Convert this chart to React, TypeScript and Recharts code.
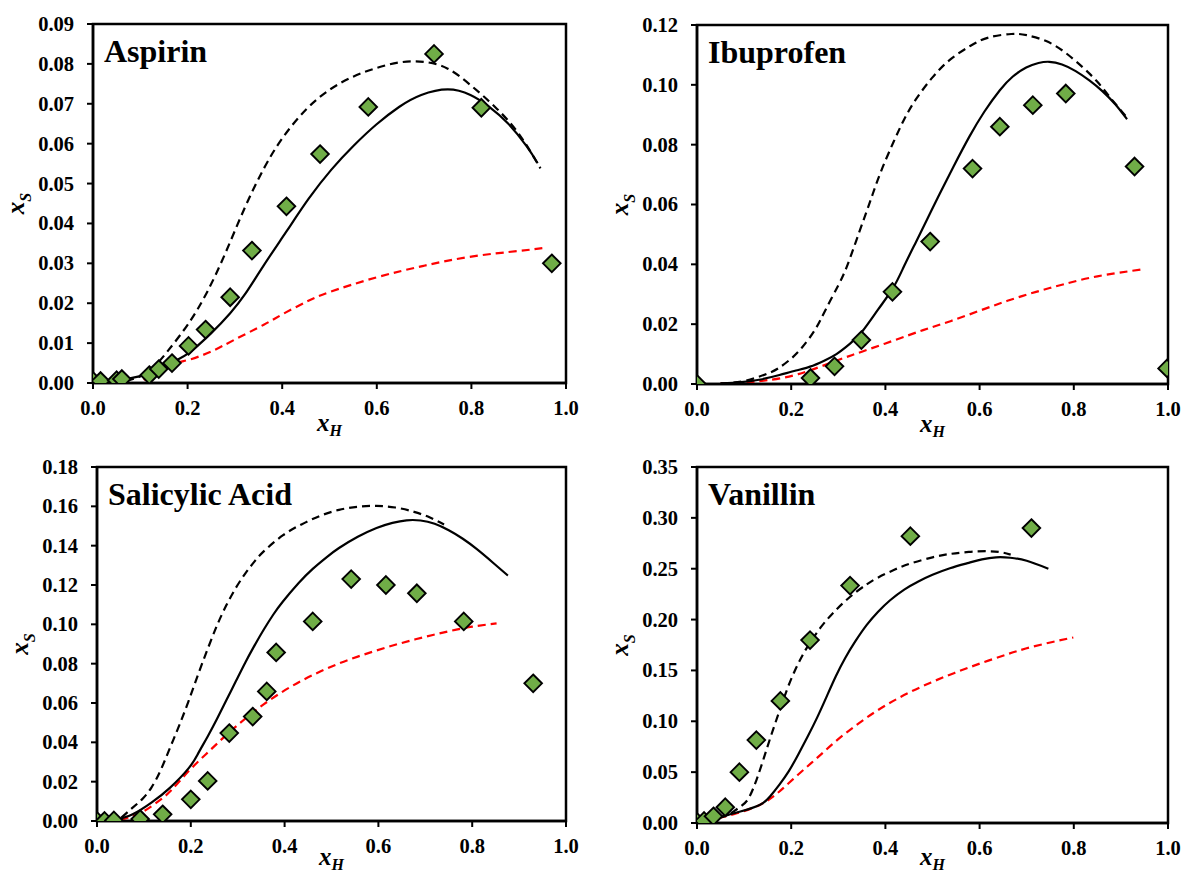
import React from 'react';
import { ComposedChart, Line, Scatter, XAxis, YAxis, ReferenceArea } from 'recharts';

// x_H values shared by all four panels
const xTicks = [0, 0.2, 0.4, 0.6, 0.8, 1.0];

// ---- Aspirin ----
const aspirinTicks = [0, 0.01, 0.02, 0.03, 0.04, 0.05, 0.06, 0.07, 0.08, 0.09];
const aspirinExp = [
  [0.0, 0.0005], [0.016, 0.0005], [0.05, 0.0007], [0.061, 0.001], [0.119, 0.002],
  [0.139, 0.0035], [0.167, 0.005], [0.202, 0.0093], [0.238, 0.0134], [0.29, 0.0215],
  [0.336, 0.0332], [0.409, 0.0443], [0.48, 0.0574], [0.582, 0.0692], [0.721, 0.0825],
  [0.821, 0.069], [0.97, 0.030],
];
const aspirinModel = [
  [0.06, 0.0008], [0.123, 0.0025], [0.171, 0.0054], [0.202, 0.0075], [0.25, 0.0125],
  [0.29, 0.0175], [0.321, 0.0222], [0.361, 0.0295], [0.409, 0.038], [0.456, 0.0462],
  [0.504, 0.0535], [0.552, 0.0596], [0.599, 0.0648], [0.647, 0.0692], [0.694, 0.0722],
  [0.75, 0.0736], [0.798, 0.0722], [0.837, 0.0693], [0.877, 0.0651], [0.917, 0.0593],
  [0.94, 0.0551],
];
const aspirinDashed = [
  [0.07, 0.0005], [0.1, 0.0017], [0.13, 0.0042], [0.16, 0.0083], [0.2, 0.0146],
  [0.24, 0.0225], [0.28, 0.0326], [0.32, 0.0437], [0.36, 0.0535], [0.4, 0.0613],
  [0.45, 0.0685], [0.5, 0.0735], [0.55, 0.0768], [0.6, 0.079], [0.65, 0.0804],
  [0.7, 0.0805], [0.75, 0.0788], [0.8, 0.0745], [0.85, 0.0692], [0.9, 0.0625],
  [0.946, 0.0538],
];
const aspirinRed = [
  [0.107, 0.0008], [0.167, 0.0046], [0.202, 0.0058], [0.25, 0.0079], [0.3, 0.0109],
  [0.361, 0.0146], [0.4, 0.0172], [0.45, 0.0203], [0.5, 0.0228], [0.6, 0.0265],
  [0.7, 0.0294], [0.8, 0.0317], [0.9, 0.0331], [0.95, 0.0338],
];

// ---- Ibuprofen ----
const ibuprofenTicks = [0, 0.02, 0.04, 0.06, 0.08, 0.1, 0.12];
const ibuprofenExp = [
  [0.0, 0.0], [0.241, 0.002], [0.292, 0.0059], [0.349, 0.0147], [0.415, 0.0308],
  [0.495, 0.0476], [0.585, 0.072], [0.643, 0.086], [0.713, 0.0932], [0.783, 0.0971],
  [0.929, 0.0727], [0.998, 0.0052],
];
const ibuprofenModel = [
  [0.05, 0.0001], [0.094, 0.0006], [0.135, 0.0015], [0.175, 0.003], [0.21, 0.0045],
  [0.24, 0.0058], [0.27, 0.0078], [0.296, 0.010], [0.325, 0.0135], [0.352, 0.0178],
  [0.385, 0.025], [0.417, 0.0323], [0.44, 0.0395], [0.465, 0.0475], [0.49, 0.0555],
  [0.514, 0.0632], [0.545, 0.0728], [0.578, 0.0826], [0.61, 0.091], [0.643, 0.0982],
  [0.67, 0.1027], [0.699, 0.1058], [0.725, 0.1073], [0.748, 0.1077], [0.775, 0.1068],
  [0.804, 0.1046], [0.833, 0.1015], [0.86, 0.098], [0.888, 0.0935], [0.913, 0.0885],
];
const ibuprofenDashed = [
  [0.05, 0.0002], [0.1, 0.001], [0.15, 0.0035], [0.175, 0.0055], [0.2, 0.0085],
  [0.223, 0.0122], [0.25, 0.018], [0.272, 0.0245], [0.3, 0.033], [0.32, 0.040],
  [0.345, 0.051], [0.368, 0.0612], [0.39, 0.0708], [0.417, 0.0808], [0.44, 0.0885],
  [0.465, 0.0952], [0.5, 0.1025], [0.538, 0.1085], [0.58, 0.113], [0.619, 0.1158],
  [0.667, 0.117], [0.7, 0.1166], [0.74, 0.1147], [0.78, 0.111], [0.82, 0.1057],
  [0.85, 0.101], [0.877, 0.0958], [0.913, 0.089],
];
const ibuprofenRed = [
  [0.05, 0.0001], [0.1, 0.0005], [0.15, 0.0013], [0.215, 0.0033], [0.296, 0.0078],
  [0.35, 0.0108], [0.417, 0.0145], [0.48, 0.018], [0.538, 0.021], [0.6, 0.0245],
  [0.659, 0.0278], [0.72, 0.0308], [0.78, 0.0334], [0.85, 0.036], [0.949, 0.0384],
];

// ---- Salicylic Acid ----
const salicylicTicks = [0, 0.02, 0.04, 0.06, 0.08, 0.1, 0.12, 0.14, 0.16, 0.18];
const salicylicExp = [
  [0.0, 0.0], [0.016, 0.0], [0.036, 0.0003], [0.092, 0.001], [0.14, 0.0034],
  [0.2, 0.011], [0.236, 0.0204], [0.282, 0.0447], [0.332, 0.0531], [0.362, 0.0659],
  [0.382, 0.0857], [0.46, 0.1015], [0.542, 0.123], [0.616, 0.120], [0.682, 0.1158],
  [0.782, 0.1015], [0.93, 0.070],
];
const salicylicModel = [
  [0.04, 0.0005], [0.076, 0.0034], [0.116, 0.0093], [0.156, 0.017], [0.196, 0.027],
  [0.216, 0.0345], [0.236, 0.043], [0.256, 0.052], [0.276, 0.0615], [0.296, 0.071],
  [0.316, 0.0805], [0.336, 0.0893], [0.356, 0.0975], [0.376, 0.105], [0.396, 0.1115],
  [0.43, 0.121], [0.46, 0.1282], [0.49, 0.1342], [0.516, 0.1388], [0.556, 0.1445],
  [0.596, 0.149], [0.63, 0.1516], [0.66, 0.1529], [0.69, 0.1528], [0.72, 0.1511],
  [0.75, 0.1478], [0.78, 0.1435], [0.81, 0.1382], [0.845, 0.1312], [0.876, 0.1248],
];
const salicylicDashed = [
  [0.052, 0.0017], [0.076, 0.0068], [0.096, 0.011], [0.116, 0.017], [0.136, 0.026],
  [0.156, 0.0374], [0.176, 0.049], [0.196, 0.0615], [0.216, 0.0748], [0.236, 0.0875],
  [0.256, 0.0995], [0.276, 0.1098], [0.296, 0.1185], [0.316, 0.1258], [0.336, 0.132],
  [0.356, 0.1372], [0.396, 0.1452], [0.436, 0.1508], [0.476, 0.1552], [0.516, 0.1582],
  [0.556, 0.1598], [0.596, 0.1602], [0.636, 0.1594], [0.676, 0.1572], [0.71, 0.1543],
  [0.74, 0.1508],
];
const salicylicRed = [
  [0.05, 0.0005], [0.076, 0.0025], [0.1, 0.005], [0.132, 0.0102], [0.16, 0.016],
  [0.196, 0.0255], [0.236, 0.0348], [0.276, 0.0438], [0.316, 0.052], [0.356, 0.0594],
  [0.396, 0.0658], [0.436, 0.0713], [0.476, 0.076], [0.516, 0.0801], [0.556, 0.0836],
  [0.596, 0.0867], [0.636, 0.0896], [0.676, 0.0922], [0.716, 0.0946], [0.756, 0.0968],
  [0.8, 0.0988], [0.852, 0.1005],
];

// ---- Vanillin ----
const vanillinTicks = [0, 0.05, 0.1, 0.15, 0.2, 0.25, 0.3, 0.35];
const vanillinExp = [
  [0.0, 0.001], [0.015, 0.002], [0.035, 0.0066], [0.06, 0.0155], [0.09, 0.050],
  [0.126, 0.0815], [0.177, 0.120], [0.24, 0.1798], [0.325, 0.2334], [0.453, 0.282],
  [0.71, 0.290],
];
const vanillinModel = [
  [0.02, 0.001], [0.038, 0.004], [0.066, 0.008], [0.094, 0.0115], [0.134, 0.018],
  [0.155, 0.026], [0.175, 0.0378], [0.195, 0.051], [0.215, 0.0674], [0.235, 0.085],
  [0.255, 0.1036], [0.275, 0.124], [0.295, 0.1445], [0.315, 0.1625], [0.336, 0.1785],
  [0.36, 0.1945], [0.384, 0.2075], [0.41, 0.219], [0.44, 0.2295], [0.47, 0.2375],
  [0.5, 0.244], [0.537, 0.2505], [0.577, 0.2558], [0.605, 0.2592], [0.635, 0.2612],
  [0.665, 0.2608], [0.7, 0.2578], [0.746, 0.250],
];
const vanillinDashed = [
  [0.02, 0.001], [0.038, 0.004], [0.06, 0.007], [0.078, 0.0115], [0.095, 0.017],
  [0.11, 0.0247], [0.126, 0.042], [0.142, 0.064], [0.158, 0.087], [0.175, 0.110],
  [0.191, 0.131], [0.207, 0.149], [0.223, 0.164], [0.239, 0.1765], [0.263, 0.1925],
  [0.287, 0.2055], [0.31, 0.2162], [0.336, 0.2265], [0.36, 0.2345], [0.384, 0.2412],
  [0.42, 0.2492], [0.456, 0.2555], [0.5, 0.2612], [0.537, 0.2645], [0.577, 0.2665],
  [0.617, 0.2672], [0.645, 0.2662], [0.666, 0.2638],
];
const vanillinRed = [
  [0.02, 0.001], [0.038, 0.004], [0.08, 0.009], [0.134, 0.018], [0.175, 0.031],
  [0.215, 0.0477], [0.255, 0.064], [0.295, 0.0805], [0.336, 0.0955], [0.376, 0.1085],
  [0.416, 0.1198], [0.456, 0.1295], [0.497, 0.1382], [0.537, 0.1458], [0.577, 0.1528],
  [0.617, 0.1594], [0.658, 0.1658], [0.698, 0.1715], [0.75, 0.1775], [0.799, 0.1824],
];

const FONT = "'Liberation Serif', 'Times New Roman', Times, 'DejaVu Serif', serif";
const W = 592;
const H = 437;

const toPts = (rows: number[][]) => rows.map(([x, y]) => ({ x, y }));

const panels = [
  {
    name: 'Aspirin', left: 0, top: 0, plotLeft: 93, plotTop: 24, plotRight: 566, plotBottom: 383, xLabelDy: 48,
    yMax: 0.09, yTicks: aspirinTicks, exp: aspirinExp, model: aspirinModel, dashed: aspirinDashed, red: aspirinRed,
  },
  {
    name: 'Ibuprofen', left: 592, top: 0, plotLeft: 697, plotTop: 25, plotRight: 1168, plotBottom: 384, xLabelDy: 48,
    yMax: 0.12, yTicks: ibuprofenTicks, exp: ibuprofenExp, model: ibuprofenModel, dashed: ibuprofenDashed, red: ibuprofenRed,
  },
  {
    name: 'Salicylic Acid', left: 0, top: 437, plotLeft: 97, plotTop: 467, plotRight: 566, plotBottom: 821, xLabelDy: 44,
    yMax: 0.18, yTicks: salicylicTicks, exp: salicylicExp, model: salicylicModel, dashed: salicylicDashed, red: salicylicRed,
  },
  {
    name: 'Vanillin', left: 592, top: 437, plotLeft: 697, plotTop: 467, plotRight: 1168, plotBottom: 823, xLabelDy: 42,
    yMax: 0.35, yTicks: vanillinTicks, exp: vanillinExp, model: vanillinModel, dashed: vanillinDashed, red: vanillinRed,
  },
];

const labelStyle = { fontFamily: FONT, fontWeight: 700, fontSize: 20.5 };

const XTick = (props: any) => {
  const { x, y, payload } = props;
  return (
    <text x={x} y={y} dy="0.71em" textAnchor="middle" fill="#000" style={labelStyle}>
      {Number(payload.value).toFixed(1)}
    </text>
  );
};

const YTick = (props: any) => {
  const { x, y, payload } = props;
  return (
    <text x={x} y={y} dy="0.34em" textAnchor="end" fill="#000" style={labelStyle}>
      {Number(payload.value).toFixed(2)}
    </text>
  );
};

const Diamond = (props: any) => {
  const { cx, cy } = props;
  if (cx == null || cy == null) return null;
  const h = 8.8;
  return (
    <polygon
      points={`${cx},${cy - h} ${cx + h},${cy} ${cx},${cy + h} ${cx - h},${cy}`}
      fill="#70AD47"
      stroke="#000"
      strokeWidth={1.9}
    />
  );
};

const Panel = ({ p }: { p: (typeof panels)[number] }) => (
  <div style={{ position: 'absolute', left: p.left, top: p.top }}>
    <ComposedChart
      width={W}
      height={H}
      margin={{ top: p.plotTop - p.top, right: p.left + W - p.plotRight, bottom: 0, left: 0 }}
    >
      <XAxis
        type="number"
        dataKey="x"
        domain={[0, 1]}
        ticks={xTicks}
        interval={0}
        height={p.top + H - p.plotBottom}
        tickSize={6}
        tickMargin={11}
        axisLine={{ stroke: '#000', strokeWidth: 2.5 }}
        tickLine={{ stroke: '#000', strokeWidth: 2 }}
        tick={<XTick />}
        allowDataOverflow
      />
      <YAxis
        type="number"
        dataKey="y"
        domain={[0, p.yMax]}
        ticks={p.yTicks}
        interval={0}
        width={p.plotLeft - p.left}
        tickSize={6}
        tickMargin={13}
        axisLine={{ stroke: '#000', strokeWidth: 2.5 }}
        tickLine={{ stroke: '#000', strokeWidth: 2 }}
        tick={<YTick />}
        allowDataOverflow
      />
      <ReferenceArea x1={0} x2={1} y1={0} y2={p.yMax} fill="none" stroke="#000" strokeWidth={2.5} />
      <Line data={toPts(p.red)} dataKey="y" type="natural" stroke="#FF0000" strokeWidth={2.2}
        strokeDasharray="8 5" dot={false} isAnimationActive={false} />
      <Line data={toPts(p.dashed)} dataKey="y" type="natural" stroke="#000" strokeWidth={2.2}
        strokeDasharray="8 5" dot={false} isAnimationActive={false} />
      <Line data={toPts(p.model)} dataKey="y" type="natural" stroke="#000" strokeWidth={2.2}
        dot={false} isAnimationActive={false} />
      <Scatter data={toPts(p.exp)} dataKey="y" shape={Diamond} isAnimationActive={false} />
    </ComposedChart>
  </div>
);

export default function App() {
  return (
    <div style={{ position: 'absolute', left: 0, top: 0, width: 1184, height: 874, background: '#fff', overflow: 'hidden', fontFamily: FONT }}>
      {panels.map((p) => (
        <Panel key={p.name} p={p} />
      ))}
      <svg width={1184} height={874} style={{ position: 'absolute', left: 0, top: 0, pointerEvents: 'none' }}>
        {panels.map((p) => (
          <g key={p.name} style={{ fontFamily: FONT, fontWeight: 700 }} fill="#000">
            <text x={p.plotLeft + 11} y={p.plotTop + 38} fontSize={32}>{p.name}</text>
            <text x={(p.plotLeft + p.plotRight) / 2} y={p.plotBottom + p.xLabelDy} fontSize={25} fontStyle="italic" textAnchor="middle">
              <tspan>x</tspan>
              <tspan fontSize={16} dy={5}>H</tspan>
            </text>
            <text
              transform={`translate(${p.plotLeft - 69}, ${(p.plotTop + p.plotBottom) / 2}) rotate(-90)`}
              fontSize={25}
              fontStyle="italic"
              textAnchor="middle"
            >
              <tspan>x</tspan>
              <tspan fontSize={16} dy={7}>S</tspan>
            </text>
          </g>
        ))}
      </svg>
    </div>
  );
}
